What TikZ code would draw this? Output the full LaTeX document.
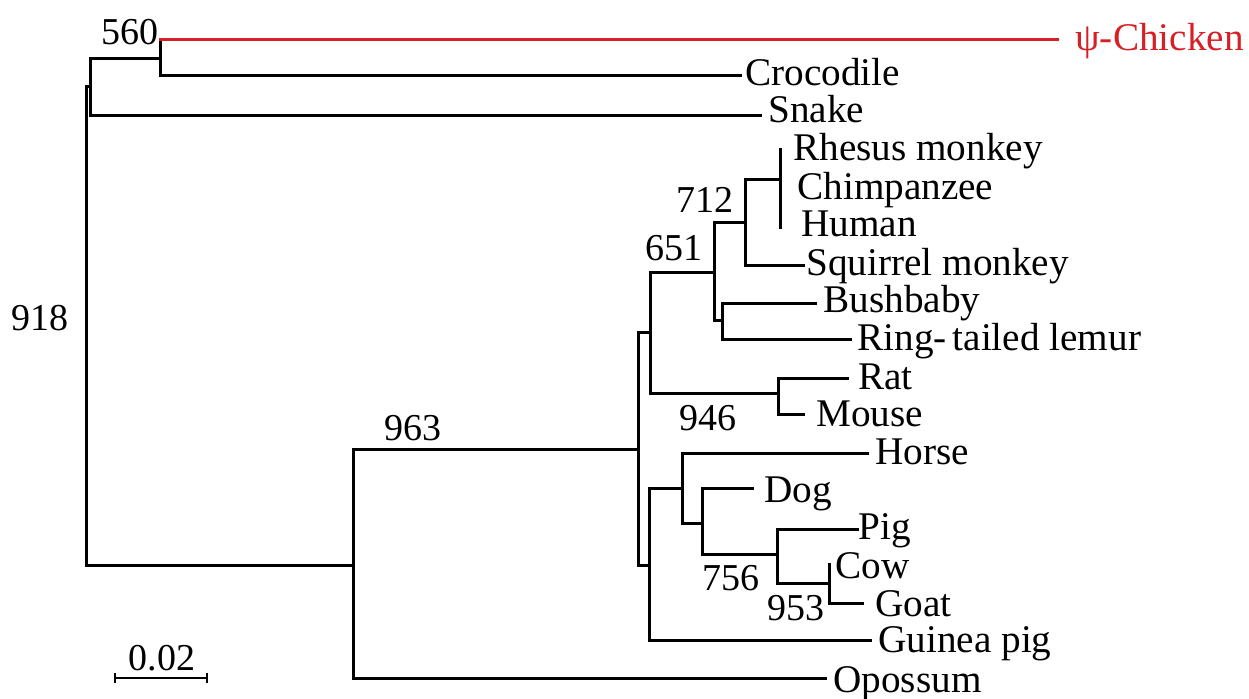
\documentclass[tikz,border=0pt]{standalone}
\usepackage{fontspec}
\setmainfont{Liberation Serif}
\definecolor{psired}{RGB}{214,32,38}
\begin{document}
\begin{tikzpicture}[x=0.5pt,y=-0.5pt,
  br/.style={line width=1.5pt, line cap=rect},
  lab/.style={anchor=base west, inner sep=0pt, font=\fontsize{19.6}{20}\selectfont},
  boot/.style={anchor=center, inner sep=0pt, font=\fontsize{19}{20}\selectfont}]
\useasboundingbox (0,0) rectangle (1249,698);
% internal nodes
\coordinate (root) at (86,86);
\coordinate (rep) at (90,86);
\coordinate (n560) at (160,58);
\coordinate (mam) at (353,565);
\coordinate (n963) at (638,449);
\coordinate (eua) at (650,332);
\coordinate (n651) at (714,272);
\coordinate (n712) at (745,222);
\coordinate (cat) at (780,179);
\coordinate (strep) at (722,320);
\coordinate (rod) at (778,393);
\coordinate (lgr) at (649,565);
\coordinate (laur) at (682,488);
\coordinate (ferung) at (702,523);
\coordinate (cet) at (777,554);
\coordinate (bov) at (829,583);
% tips
\coordinate (tchicken) at (1057,39);
\coordinate (tcroc) at (740,75);
\coordinate (tsnake) at (760,115);
\coordinate (trhesus) at (780,149);
\coordinate (thuman) at (780,227);
\coordinate (tsquirrel) at (803,265);
\coordinate (tbush) at (815,303);
\coordinate (tlemur) at (850,339);
\coordinate (trat) at (847,378);
\coordinate (tmouse) at (803,414);
\coordinate (thorse) at (867,453);
\coordinate (tdog) at (752,488);
\coordinate (tpig) at (857,529);
\coordinate (tcow) at (829,564);
\coordinate (tgoat) at (862,603);
\coordinate (tguinea) at (870,640);
\coordinate (topossum) at (825,678);
% branches
\draw[br] (root) -- (rep);
\draw[br] (root) |- (mam);
\draw[br] (rep) |- (n560);
\draw[br] (rep) |- (tsnake);
\draw[br] (n560) |- (tchicken);
\draw[br, psired] (tchicken -| n560) -- (tchicken);
\draw[br] (n560) |- (tcroc);
\draw[br] (mam) |- (n963);
\draw[br] (mam) |- (topossum);
\draw[br] (n963) |- (eua);
\draw[br] (n963) |- (lgr);
\draw[br] (eua) |- (n651);
\draw[br] (eua) |- (rod);
\draw[br] (n651) |- (n712);
\draw[br] (n651) |- (strep);
\draw[br] (n712) |- (cat);
\draw[br] (n712) |- (tsquirrel);
\draw[br] (cat) -- (trhesus);
\draw[br] (cat) -- (thuman);
\draw[br] (strep) |- (tbush);
\draw[br] (strep) |- (tlemur);
\draw[br] (rod) |- (trat);
\draw[br] (rod) |- (tmouse);
\draw[br] (lgr) |- (laur);
\draw[br] (lgr) |- (tguinea);
\draw[br] (laur) |- (thorse);
\draw[br] (laur) |- (ferung);
\draw[br] (ferung) |- (tdog);
\draw[br] (ferung) |- (cet);
\draw[br] (cet) |- (tpig);
\draw[br] (cet) |- (bov);
\draw[br] (bov) -- (tcow);
\draw[br] (bov) |- (tgoat);
% leaf labels
\node[lab, text=psired] (chicken) at (1075,50) {ψ-Chicken};
\node[lab] (croc) at (745,85) {Crocodile};
\node[lab] (snake) at (768,122) {Snake};
\node[lab] (rhesus) at (793,160) {Rhesus monkey};
\node[lab] (chimp) at (797,199) {Chimpanzee};
\node[lab] (human) at (801,236) {Human};
\node[lab] (squirrel) at (806,275) {Squirrel monkey};
\node[lab] (bush) at (823,312) {Bushbaby};
\node[lab] (lemur) at (857,350) {Ring-\kern3pt tailed lemur};
\node[lab] (rat) at (858,389) {Rat};
\node[lab] (mouse) at (816,426) {Mouse};
\node[lab] (horse) at (875,464) {Horse};
\node[lab] (dog) at (764,502) {Dog};
\node[lab] (pig) at (858,539) {Pig};
\node[lab] (cow) at (835,578) {Cow};
\node[lab] (goat) at (875,616) {Goat};
\node[lab] (guinea) at (878,652) {Guinea pig};
\node[lab] (opossum) at (833,692) {Opossum};
% bootstrap labels
\node[boot] (b560) at (130,32) {560};
\node[boot] (b918) at (40,318) {918};
\node[boot] (b963) at (413,428) {963};
\node[boot] (b712) at (705,200) {712};
\node[boot] (b651) at (674,248) {651};
\node[boot] (b946) at (708,418) {946};
\node[boot] (b756) at (731,578) {756};
\node[boot] (b953) at (796,608) {953};
% scale bar
\node[boot] (scl) at (162,658) {0.02};
\coordinate (sa) at (115,678);
\coordinate (sb) at (207,678);
\draw[line width=1.2pt] (sa) -- (sb);
\draw[line width=1.2pt] ([yshift=-2.5pt]sa) -- ([yshift=2.5pt]sa);
\draw[line width=1.2pt] ([yshift=-2.5pt]sb) -- ([yshift=2.5pt]sb);
\end{tikzpicture}
\end{document}
